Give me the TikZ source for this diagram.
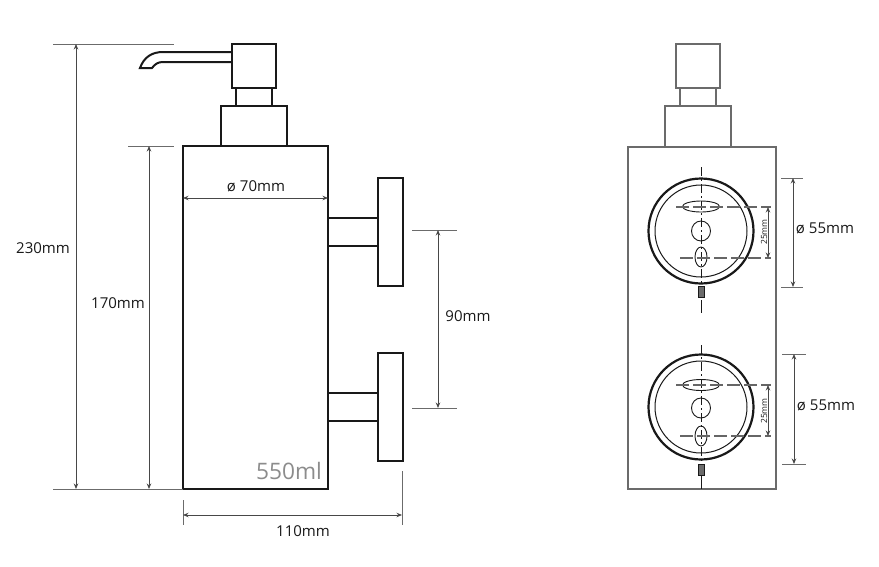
\documentclass[tikz,border=0pt]{standalone}
\usepackage{fontspec}
\setmainfont{Open Sans}
\usetikzlibrary{positioning}
\usetikzlibrary{shapes.geometric}
\usetikzlibrary{arrows.meta}
\definecolor{accent}{rgb}{0.42,0.42,0.42}
\definecolor{ink}{rgb}{0.1,0.1,0.1}

\begin{document}
\begin{tikzpicture}[
  x=1pt,
  y=-1pt,
  part/.style = {
    draw = ink,
    line width = 2pt,
    rectangle,
    outer sep = 0pt,
    inner sep = 0pt,
  },
  fpart/.style = {
    part,
    draw = accent,
    line width = 1.3pt,
  },
  ring/.style = {
    draw = ink,
    circle,
    outer sep = 0pt,
    inner sep = 0pt,
  },
  hole/.style = {
    draw = ink,
    ellipse,
    line width = 0.9pt,
    outer sep = 0pt,
    inner sep = 0pt,
  },
  screwbox/.style = {
    draw = ink,
    fill = accent,
    rectangle,
    line width = 0.4pt,
    minimum width = 6pt,
    minimum height = 11pt,
    outer sep = 0pt,
    inner sep = 0pt,
  },
  ext/.style = {
    draw = accent,
    line width = 1pt,
  },
  dim/.style = {
    draw = ink!80,
    line width = 0.9pt,
    <->,
  },
  axis/.style = {
    draw = ink,
    line width = 1pt,
    dash pattern = on 9pt off 3pt on 2pt off 3pt,
  },
  cross/.style = {
    draw = black!60,
    line width = 1.1pt,
    dash pattern = on 13pt off 4pt,
  },
  lbl/.style = {
    text = ink,
    font = \fontsize{15}{18}\selectfont,
    inner sep = 0pt,
  },
  >={Stealth[length=5.5pt,width=4.5pt]},
]

  \useasboundingbox (0,0) rectangle (879,566);

  % side view
  \node[part,minimum width=145pt,minimum height=343pt] (body) at (255.5,317.5) {};
  \node[part,minimum width=66pt,minimum height=40pt,xshift=-1.5pt] (cap) [above=0pt of body] {};
  \node[part,minimum width=36pt,minimum height=18pt] (neck) [above=0pt of cap] {};
  \node[part,minimum width=44pt,minimum height=44pt] (head) [above=0pt of neck] {};
  \node[part,minimum width=50pt,minimum height=28pt] (stub0) at (353,232) {};
  \node[part,minimum width=24.5pt,minimum height=108pt] (plate0) [right=0pt of stub0] {};
  \node[part,minimum width=50pt,minimum height=28pt] (stub1) at (353,407) {};
  \node[part,minimum width=24.5pt,minimum height=108pt] (plate1) [right=0pt of stub1] {};

  % spout
  \coordinate (spt) at (head.north west |- 0,52);
  \coordinate (spb) at (head.north west |- 0,62);
  \draw[part] (spt) -- (163,52) .. controls (152,52) and (144,57) .. (140,68)
    -- (152,68) .. controls (155,64) and (158,62) .. (163,62) -- (spb);

  % front view
  \node[fpart,minimum width=148pt,minimum height=342pt] (back) at (702,318) {};
  \node[fpart,minimum width=66pt,minimum height=41pt,xshift=-4pt] (fcap) [above=0pt of back] {};
  \node[fpart,minimum width=36pt,minimum height=18pt] (fneck) [above=0pt of fcap] {};
  \node[fpart,minimum width=44pt,minimum height=44pt] (fhead) [above=0pt of fneck] {};

  % upper mount
  \node[ring,line width=2.2pt,minimum size=105pt] (r0) at (701,231) {};
  \node[ring,line width=1pt,minimum size=92pt] (s0) at (701,231) {};
  \node[hole,minimum width=19pt,minimum height=20pt] (c0) at (701,231) {};
  \node[hole,minimum width=37pt,minimum height=11pt] (e0) [above=9pt of c0] {};
  \node[hole,minimum width=12pt,minimum height=20pt] (g0) [below=6pt of c0] {};
  \node[screwbox] (sc0) at (701,291.5) {};
  \coordinate (ax0) at (701,167);
  \coordinate (h0l) at (676,207);
  \coordinate (h0r) at (771,207);
  \coordinate (k0l) at (680,258);
  \coordinate (k0r) at (771,258);
  \coordinate (tail0a) at (701,300);
  \coordinate (tail0b) at (701,313);
  \draw[axis] (ax0) -- (sc0.north);
  \draw[ink,line width=0.8pt] (tail0a) -- (tail0b);
  \draw[cross] (h0l) -- (h0r);
  \draw[cross] (k0l) -- (k0r);

  % lower mount
  \node[ring,line width=2.2pt,minimum size=105pt] (r1) at (701,407) {};
  \node[ring,line width=1pt,minimum size=92pt] (s1) at (701,407) {};
  \node[hole,minimum width=19pt,minimum height=20pt] (c1) at (701,408) {};
  \node[hole,minimum width=37pt,minimum height=11pt] (e1) [above=7.5pt of c1] {};
  \node[hole,minimum width=12pt,minimum height=20pt] (g1) [below=8pt of c1] {};
  \node[screwbox] (sc1) at (701,469.5) {};
  \coordinate (ax1) at (701,345);
  \coordinate (h1l) at (676,385);
  \coordinate (h1r) at (771,385);
  \coordinate (k1l) at (680,436);
  \coordinate (k1r) at (771,436);
  \draw[axis] (ax1) -- (sc1.north);
  \draw[ink,line width=0.8pt] (sc1.south) -- (sc1.south |- back.south);
  \draw[cross] (h1l) -- (h1r);
  \draw[cross] (k1l) -- (k1r);

  % extension lines
  \coordinate (a0) at (53,44);
  \coordinate (a1) at (174,44);
  \coordinate (a2) at (53,489);
  \coordinate (b0) at (128,146);
  \coordinate (b1) at (174,146);
  \coordinate (d0) at (412,230);
  \coordinate (d1) at (457,230);
  \coordinate (d2) at (412,408);
  \coordinate (d3) at (457,408);
  \coordinate (w0) at (183,500);
  \coordinate (w1) at (183,525);
  \coordinate (w2) at (402,471);
  \coordinate (w3) at (402,525);
  \coordinate (q0) at (781,178);
  \coordinate (q1) at (803,178);
  \coordinate (q2) at (781,287);
  \coordinate (q3) at (803,287);
  \coordinate (p0) at (782,354);
  \coordinate (p1) at (806,354);
  \coordinate (p2) at (782,464);
  \coordinate (p3) at (806,464);
  \draw[ext] (a0) -- (a1);
  \draw[ext] (a2) -- (body.south west);
  \draw[ext] (b0) -- (b1);
  \draw[ext] (d0) -- (d1);
  \draw[ext] (d2) -- (d3);
  \draw[ext] (w0) -- (w1);
  \draw[ext] (w2) -- (w3);
  \draw[ext] (q0) -- (q1);
  \draw[ext] (q2) -- (q3);
  \draw[ext] (p0) -- (p1);
  \draw[ext] (p2) -- (p3);

  % dimensions
  \draw[dim] (76,44) -- (76,489);
  \draw[dim] (149,146) -- (149,489);
  \draw[dim] (body.west |- 0,198) -- (body.east |- 0,198);
  \draw[dim] (438,230) -- (438,408);
  \draw[dim] (183,515) -- (402,515);
  \draw[dim] (793,178) -- (793,287);
  \draw[dim] (794,354) -- (794,464);
  \draw[dim] (768,207) -- (768,258);
  \draw[dim] (768,385) -- (768,436);

  \node[lbl] (l230) at (43,248) {230mm};
  \node[lbl] (l170) at (118,303) {170mm};
  \node[lbl] (l70) at (256,186) {ø 70mm};
  \node[lbl] (l90) at (468,316) {90mm};
  \node[lbl] (l110) at (303,531) {110mm};
  \node[lbl] (l55a) at (825,228) {ø 55mm};
  \node[lbl] (l55b) at (826,405) {ø 55mm};
  \node[lbl,text=black!45,font=\fontsize{22.7}{26}\selectfont] (vol) at (289,471) {550ml};
  \node[lbl,rotate=90,font=\fontsize{8.5}{10}\selectfont] (l25a) at (764,232) {25mm};
  \node[lbl,rotate=90,font=\fontsize{8.5}{10}\selectfont] (l25b) at (764,411) {25mm};

\end{tikzpicture}
\end{document}
